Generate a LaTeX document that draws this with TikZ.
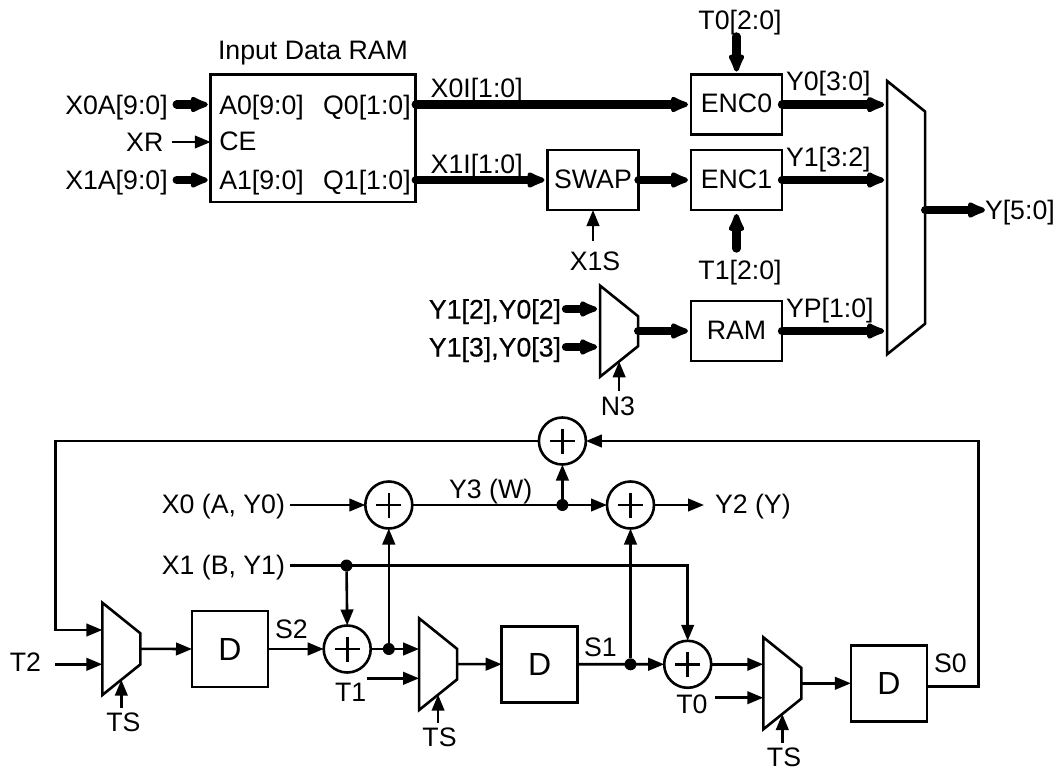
\documentclass[tikz,border=0pt]{standalone}
\usepackage{fontspec}
\setmainfont{Liberation Sans}
\newfontfamily\heavyfont[FakeBold=0.4]{Liberation Sans}
\usetikzlibrary{arrows.meta}

\tikzset{
    lab/.style={font=\fontsize{26.7}{30}\selectfont, inner sep=0pt, outer sep=0pt, text height=19pt, text depth=0pt},
    blockbox/.style={lab, draw, line width=2.6pt, text depth=3pt},
    regbox/.style={blockbox, minimum width=76pt, minimum height=76pt, font=\fontsize{32}{36}\selectfont, text height=23pt, text depth=0pt},
    wire/.style={line width=2.6pt, -{Triangle[length=16pt,width=12.5pt]}},
    busline/.style={line width=8.3pt, line cap=round, shorten >=3pt, -{Latex[round,length=24pt,width=19pt]}},
    adder/.style={circle, draw, line width=2.6pt, minimum size=47pt, inner sep=0pt, outer sep=0pt,
        path picture={\draw[line width=2.6pt] (path picture bounding box.center) ++(-12.5,0) -- ++(25,0) ++(-12.5,-12.5) -- ++(0,25);}},
    junction/.style={circle, fill, minimum size=12pt, inner sep=0pt, outer sep=0pt},
    muxspace/.style={minimum width=38pt, inner sep=0pt, outer sep=0pt},
}

% name, x, y, height
\newcommand{\muxblock}[4]{
    \node[muxspace, minimum height=#4] (#1) at (#2,#3) {};
    \draw[line width=2.6pt, line join=miter] (#1.north west) -- ([yshift=-30.6pt]#1.north east) -- ([yshift=30.6pt]#1.south east) -- coordinate[midway] (#1sel) (#1.south west) -- cycle;
}

\begin{document}
\begin{tikzpicture}[x=1pt, y=-1pt]
    \useasboundingbox (0,0) rectangle (1053,771);

    % encoder part
    \node[blockbox, minimum width=205pt, minimum height=127.3pt] (inram) at (313.25,138.35) {};
    \node[lab] (ramtitle) at (313,50) {Input Data RAM};
    \node[lab, anchor=west] (a0) at (219.3,104.5) {A0[9:0]};
    \node[lab, anchor=west] (ce) at (219.3,141) {CE};
    \node[lab, anchor=west] (a1) at (219.3,180) {A1[9:0]};
    \node[lab, anchor=east] (q0) at (410.7,104.5) {Q0[1:0]};
    \node[lab, anchor=east] (q1) at (410.7,180) {Q1[1:0]};
    \node[lab, anchor=east] (x0a) at (167.7,104.5) {X0A[9:0]};
    \node[lab, anchor=east] (xr) at (163.3,142) {XR};
    \node[lab, anchor=east] (x1a) at (167.7,180) {X1A[9:0]};
    \node[lab, anchor=west] (x0i) at (430.7,88) {X0I[1:0]};
    \node[lab, anchor=west] (x1i) at (430.7,164) {X1I[1:0]};
    \node[blockbox, minimum width=91pt, minimum height=60pt] (swap) at (593,180) {SWAP};
    \node[blockbox, minimum width=91pt, minimum height=60pt] (enc0) at (736.5,104.6) {ENC0};
    \node[blockbox, minimum width=91pt, minimum height=60pt] (enc1) at (736.5,180) {ENC1};
    \node[blockbox, minimum width=91pt, minimum height=60pt] (pram) at (736.5,331) {RAM};
    \node[lab] (t0v) at (740,20) {T0[2:0]};
    \node[lab] (t1v) at (740,270) {T1[2:0]};
    \node[lab] (x1s) at (595,261) {X1S};
    \node[lab] (n3) at (618,406) {N3};
    \node[lab, anchor=west] (y0v) at (786,81) {Y0[3:0]};
    \node[lab, anchor=west] (y1v) at (786,157) {Y1[3:2]};
    \node[lab, anchor=west] (ypv) at (786,308) {YP[1:0]};
    \node[lab, anchor=west] (yv) at (985,210) {Y[5:0]};
    \node[lab, anchor=east] (in2) at (561,309) {\heavyfont Y1[2],Y0[2]};
    \node[lab, anchor=east] (in3) at (561,347) {\heavyfont Y1[3],Y0[3]};
    \muxblock{nmux}{619.15}{331.2}{91pt}
    \muxblock{ymux}{906.15}{217.65}{273.3pt}

    \draw[busline, shorten <=9pt] (x0a.east) -- (x0a -| inram.west);
    \draw[wire, shorten <=9pt] (xr.east) -- (xr -| inram.west);
    \draw[busline, shorten <=9pt] (x1a.east) -- (x1a -| inram.west);
    \draw[busline] (q0 -| inram.east) -- (q0 -| enc0.west);
    \draw[busline] (q1 -| inram.east) -- (q1 -| swap.west);
    \draw[busline] (swap.east) -- (enc1.west);
    \draw[busline, shorten <=7pt] (t0v.south -| enc0.north) -- (enc0.north);
    \draw[busline, shorten <=12pt, shorten >=4pt] (t1v.north -| enc1.south) -- (enc1.south);
    \draw[wire, shorten <=11pt] (x1s.north -| swap.south) -- (swap.south);
    \draw[busline] (enc0.east) -- (enc0 -| ymux.west);
    \draw[busline] (enc1.east) -- (enc1 -| ymux.west);
    \draw[busline] (pram.east) -- (pram -| ymux.west);
    \draw[busline, shorten >=0pt] (yv -| ymux.east) -- (yv.west);
    \draw[busline, shorten <=5pt] (in2.east) -- (in2 -| nmux.west);
    \draw[busline, shorten <=5pt] (in3.east) -- (in3 -| nmux.west);
    \draw[busline] (pram -| nmux.east) -- (pram.west);
    \draw[wire, shorten <=6pt] (nmuxsel |- n3.north) -- (nmuxsel);

    % key schedule part
    \node[adder] (sumt) at (562.4,441) {};
    \node[adder] (sumw) at (388.8,505) {};
    \node[adder] (sumy) at (630.5,505) {};
    \node[adder] (sums2) at (347.2,649) {};
    \node[adder] (sums1) at (687.7,664.3) {};
    \node[regbox] (d1) at (230,649) {D\hspace{7pt}};
    \node[regbox] (d2) at (539.7,664.2) {D\hspace{7pt}};
    \node[regbox] (d3) at (888.9,683.3) {D\hspace{7pt}};
    \muxblock{mux1}{121.35}{648.85}{92.3pt}
    \muxblock{mux2}{438.1}{664.15}{91.7pt}
    \muxblock{mux3}{782.3}{683.3}{92pt}
    \node[junction] (dotx) at (346.5,565.5) {};
    \node[junction] (dots2) at (388.8,649) {};
    \node[junction] (dots1) at (630.5,664.3) {};
    \node[junction] (dotw) at (562.4,505) {};
    \node[lab, anchor=east] (x0l) at (285,504) {X0 (A, Y0)};
    \node[lab, anchor=east] (x1l) at (285,565) {X1 (B, Y1)};
    \node[lab] (y3l) at (490.7,489) {Y3 (W)};
    \node[lab, anchor=west] (y2l) at (715,504) {Y2 (Y)};
    \node[lab] (t2l) at (25.4,662) {T2};
    \node[lab] (t1l) at (350.6,692) {T1};
    \node[lab] (t0l) at (692,704) {T0};
    \node[lab] (s2l) at (291.4,629) {S2};
    \node[lab] (s1l) at (600.5,647) {S1};
    \node[lab] (s0l) at (950.4,663) {S0};
    \node[lab] (ts1) at (123.4,722) {TS};
    \node[lab] (ts2) at (439.5,737) {TS};
    \node[lab] (ts3) at (784,757) {TS};
    \coordinate (fbtop) at (978.7,441);
    \coordinate (fbleft) at (55.5,630);
    \coordinate (t2in) at (55,664.3);
    \coordinate (t1in) at (366.8,678.3);
    \coordinate (t0in) at (715,697.7);

    \draw[wire] (sumt.west) -| (fbleft) -- (fbleft -| mux1.west);
    \draw[wire] ([yshift=-3.4pt]d3.east) -| (fbtop) -- (sumt.east);
    \draw[wire] (t2in) -- (t2in -| mux1.west);
    \draw[wire] (mux1.east) -- (d1.west);
    \draw[wire] (d1.east) -- (sums2.west);
    \draw[wire] (sums2.east) -- (dots2 -| mux2.west);
    \draw[wire] (dots2) -- (sumw.south);
    \draw[wire] (t1in) -- (t1in -| mux2.west);
    \draw[wire] (mux2.east) -- (d2.west);
    \draw[wire] (d2.east) -- (sums1.west);
    \draw[wire] (dots1) -- (sumy.south);
    \draw[wire] (sums1.east) -- (sums1 -| mux3.west);
    \draw[wire] (t0in) -- (t0in -| mux3.west);
    \draw[wire] (mux3.east) -- (d3.west);
    \draw[wire, shorten <=5pt] (sumw -| x0l.east) -- (sumw.west);
    \draw[wire] (sumw.east) -- (sumy.west);
    \draw[wire] (dotw) -- (sumt.south);
    \draw[wire, shorten >=11pt] (sumy.east) -- (sumy -| y2l.west);
    \draw[wire, shorten <=5pt] (dotx -| x1l.east) -- (dotx -| sums1.north) -- (sums1.north);
    \draw[wire] (dotx) -- (sums2.north);
    \draw[wire, shorten <=5pt] (mux1sel |- ts1.north) -- (mux1sel);
    \draw[wire, shorten <=5pt] (mux2sel |- ts2.north) -- (mux2sel);
    \draw[wire, shorten <=5pt] (mux3sel |- ts3.north) -- (mux3sel);
\end{tikzpicture}
\end{document}
